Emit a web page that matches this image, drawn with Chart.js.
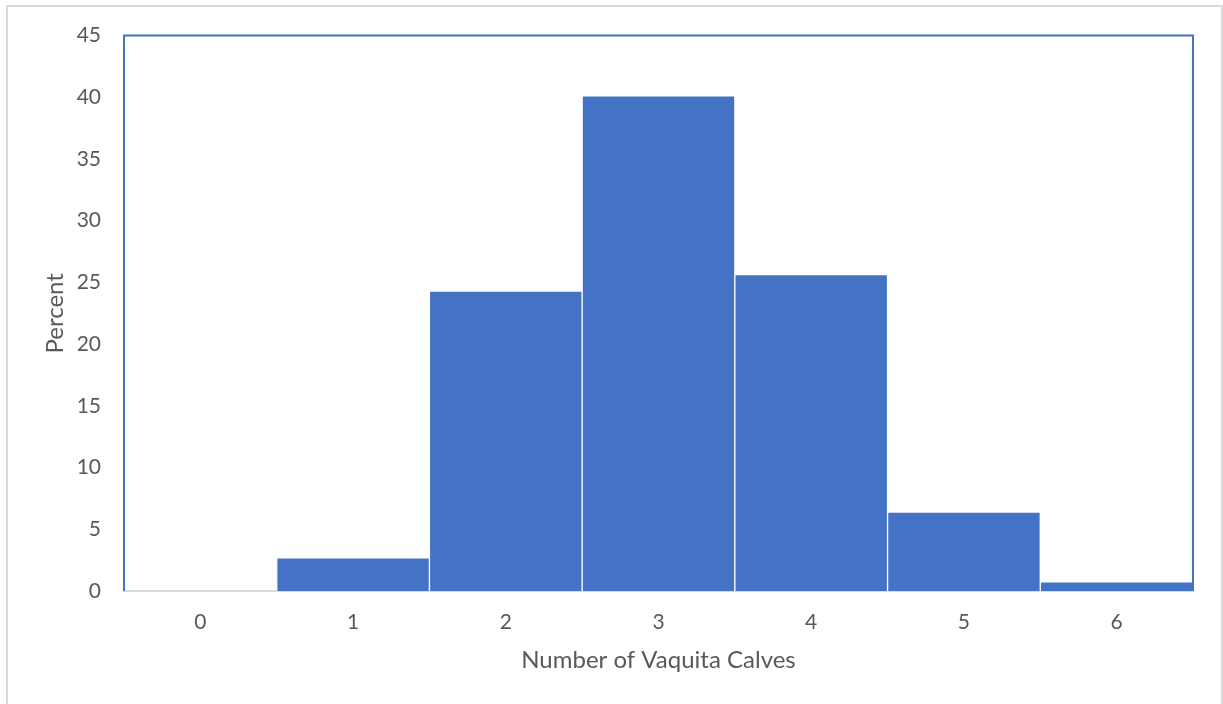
<!DOCTYPE html>
<html>
<head>
<meta charset="utf-8">
<script src="https://cdn.jsdelivr.net/npm/chart.js@4/dist/chart.umd.min.js"></script>
<style>
  html, body { margin: 0; padding: 0; background: #fff; }
  #wrap { position: relative; width: 1223px; height: 704px; overflow: hidden; }
  #frame { position: absolute; left: 6px; top: 5px; width: 1213px; height: 720px; border: 2px solid #d9d9d9; pointer-events: none; }
  canvas { position: absolute; left: 0; top: 0; }
</style>
</head>
<body>
<div id="wrap">
  <canvas id="histChart" width="1223" height="704"></canvas>
  <div id="frame"></div>
</div>
<script>
// histogram data
const calves = ['0', '1', '2', '3', '4', '5', '6'];
const percent = [0, 2.68, 24.3, 40.13, 25.63, 6.39, 0.74];
const yTicks = [0, 5, 10, 15, 20, 25, 30, 35, 40, 45];

const fontFam = "Lato, 'Open Sans', sans-serif";
const blue = '#4472C4';

// blue frame on top, left and right of the plot area
const plotFrame = {
  id: 'plotFrame',
  afterDatasetsDraw(chart) {
    const { ctx, chartArea: a } = chart;
    ctx.save();
    ctx.strokeStyle = blue;
    ctx.lineWidth = 2;
    ctx.beginPath();
    ctx.moveTo(a.left, a.bottom);
    ctx.lineTo(a.left, a.top);
    ctx.lineTo(a.right, a.top);
    ctx.lineTo(a.right, a.bottom);
    ctx.stroke();
    ctx.restore();
  }
};

const ctx = document.getElementById('histChart').getContext('2d');
new Chart(ctx, {
  type: 'bar',
  data: {
    labels: calves,
    datasets: [{
      data: percent,
      backgroundColor: blue,
      borderColor: '#ffffff',
      borderWidth: 1,
      barPercentage: 1,
      categoryPercentage: 1
    }]
  },
  options: {
    responsive: false,
    animation: false,
    layout: { padding: { top: 34, right: 30, left: 0, bottom: 0 } },
    plugins: { legend: { display: false }, tooltip: { enabled: false } },
    scales: {
      x: {
        grid: { display: false, drawTicks: false },
        border: { display: true, color: '#d9d9d9', width: 2 },
        ticks: { color: '#595959', padding: 19, font: { family: fontFam, size: 21 } },
        title: {
          display: true,
          text: 'Number of Vaquita Calves',
          color: '#595959',
          font: { family: fontFam, size: 24 },
          padding: { top: 0, bottom: 29 }
        },
        afterFit(scale) { scale.height = 113; }
      },
      y: {
        min: 0,
        max: 45,
        afterBuildTicks(scale) { scale.ticks = yTicks.map(v => ({ value: v })); },
        grid: { display: false, drawTicks: false },
        border: { display: false },
        ticks: { color: '#595959', padding: 23, font: { family: fontFam, size: 21 } },
        title: {
          display: true,
          text: 'Percent',
          color: '#595959',
          font: { family: fontFam, size: 24 },
          padding: { top: 41, bottom: 0 }
        },
        afterFit(scale) { scale.width = 124; }
      }
    }
  },
  plugins: [plotFrame]
});
</script>
</body>
</html>
